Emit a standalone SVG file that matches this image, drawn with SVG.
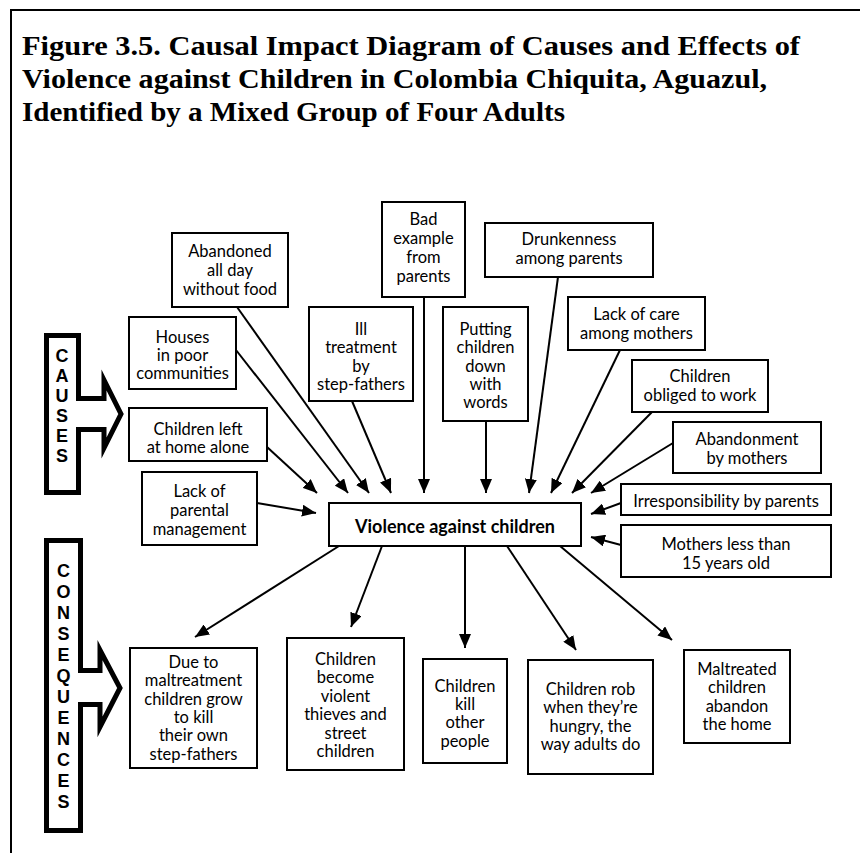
<svg xmlns="http://www.w3.org/2000/svg" width="860" height="853" viewBox="0 0 860 853">
  <style>
    .frame { fill: none; stroke: #000; stroke-width: 2; }
    .title { font-family: "Liberation Serif", "Times New Roman", serif; font-weight: bold; font-size: 28px; fill: #000; }
    .box { fill: #fff; stroke: #000; stroke-width: 2; }
    .lbl { font-family: Lato, "Liberation Sans", sans-serif; font-size: 16.5px; fill: #000; text-anchor: middle; }
    .core { font-family: Lato, "Liberation Sans", sans-serif; font-weight: bold; font-size: 18px; fill: #000; text-anchor: middle; }
    .band { fill: #fff; stroke: #000; stroke-width: 5; stroke-linejoin: miter; stroke-miterlimit: 10; }
    .vert { font-family: "Liberation Sans", Arial, sans-serif; font-weight: bold; font-size: 18px; fill: #000; text-anchor: middle; }
    .link { fill: none; stroke: #000; stroke-width: 2; marker-end: url(#head); }
  </style>
  <defs>
    <marker id="head" markerUnits="userSpaceOnUse" viewBox="0 0 14 12" refX="14" refY="6" markerWidth="14" markerHeight="12" orient="auto">
      <path d="M0,0 L14,6 L0,12 z" fill="#000"/>
    </marker>
  </defs>

  <rect width="860" height="853" fill="#fff"/>

  <!-- page frame -->
  <path class="frame" d="M11,853 L11,10 L860,10"/>

  <!-- heading -->
  <g id="title">
    <text class="title" x="22" y="55" textLength="778" lengthAdjust="spacingAndGlyphs">Figure 3.5. Causal Impact Diagram of Causes and Effects of</text>
    <text class="title" x="22" y="88" textLength="745" lengthAdjust="spacingAndGlyphs">Violence against Children in Colombia Chiquita, Aguazul,</text>
    <text class="title" x="22" y="121" textLength="543" lengthAdjust="spacingAndGlyphs">Identified by a Mixed Group of Four Adults</text>
  </g>

  <!-- side bands -->
  <g id="causes-band">
    <path class="band" d="M46.5,335.5 L78.5,335.5 L78.5,398.5 L104,398.5 L104,380 L121,414 L104,448 L104,429.5 L78.5,429.5 L78.5,492.5 L46.5,492.5 Z"/>
    <text class="vert" x="62" y="362">C</text>
    <text class="vert" x="62" y="382">A</text>
    <text class="vert" x="62" y="402">U</text>
    <text class="vert" x="62" y="422">S</text>
    <text class="vert" x="62" y="442">E</text>
    <text class="vert" x="62" y="462">S</text>
  </g>
  <g id="consequences-band">
    <path class="band" d="M46.5,540.5 L80.5,540.5 L80.5,670.5 L100,670.5 L100,650 L120,688 L100,727 L100,704.5 L80.5,704.5 L80.5,830.5 L46.5,830.5 Z"/>
    <text class="vert" x="63.5" y="577">C</text>
    <text class="vert" x="63.5" y="598">O</text>
    <text class="vert" x="63.5" y="619">N</text>
    <text class="vert" x="63.5" y="640">S</text>
    <text class="vert" x="63.5" y="661">E</text>
    <text class="vert" x="63.5" y="682">Q</text>
    <text class="vert" x="63.5" y="703">U</text>
    <text class="vert" x="63.5" y="724">E</text>
    <text class="vert" x="63.5" y="745">N</text>
    <text class="vert" x="63.5" y="766">C</text>
    <text class="vert" x="63.5" y="787">E</text>
    <text class="vert" x="63.5" y="808">S</text>
  </g>

  <!-- connectors -->
  <g id="connectors">
    <path class="link" d="M267,447 L317,493"/>
    <path class="link" d="M236,350 L348,493"/>
    <path class="link" d="M237,307 L369,493"/>
    <path class="link" d="M352,401 L391,493"/>
    <path class="link" d="M424,297 L424,493"/>
    <path class="link" d="M486,421 L486,493"/>
    <path class="link" d="M558,277 L529,493"/>
    <path class="link" d="M620,350 L551,493"/>
    <path class="link" d="M652,412 L572,493"/>
    <path class="link" d="M673,443 L591,493"/>
    <path class="link" d="M621,503 L591,514"/>
    <path class="link" d="M621,545 L591,537"/>
    <path class="link" d="M257,503 L316,513"/>
    <path class="link" d="M339,546 L195,637"/>
    <path class="link" d="M382,546 L351,627"/>
    <path class="link" d="M465,546 L465,648"/>
    <path class="link" d="M507,546 L576,650"/>
    <path class="link" d="M560,546 L672,640"/>
  </g>

  <!-- causes -->
  <g id="abandoned-all-day">
    <rect class="box" x="172" y="233" width="116" height="74"/>
    <text class="lbl" x="230" y="257">Abandoned</text>
    <text class="lbl" x="230" y="276">all day</text>
    <text class="lbl" x="230" y="295">without food</text>
  </g>
  <g id="bad-example">
    <rect class="box" x="382" y="202" width="83" height="95"/>
    <text class="lbl" x="423.5" y="225">Bad</text>
    <text class="lbl" x="423.5" y="244">example</text>
    <text class="lbl" x="423.5" y="263">from</text>
    <text class="lbl" x="423.5" y="282">parents</text>
  </g>
  <g id="drunkenness">
    <rect class="box" x="485" y="223" width="168" height="54"/>
    <text class="lbl" x="569" y="245">Drunkenness</text>
    <text class="lbl" x="569" y="264">among parents</text>
  </g>
  <g id="lack-of-care">
    <rect class="box" x="568" y="297" width="137" height="53"/>
    <text class="lbl" x="636.5" y="320">Lack of care</text>
    <text class="lbl" x="636.5" y="339">among mothers</text>
  </g>
  <g id="obliged-to-work">
    <rect class="box" x="632" y="360" width="136" height="52"/>
    <text class="lbl" x="700" y="382">Children</text>
    <text class="lbl" x="700" y="401">obliged to work</text>
  </g>
  <g id="abandonment-by-mothers">
    <rect class="box" x="673" y="422" width="148" height="51"/>
    <text class="lbl" x="747" y="445">Abandonment</text>
    <text class="lbl" x="747" y="464">by mothers</text>
  </g>
  <g id="irresponsibility">
    <rect class="box" x="621" y="484" width="210" height="31"/>
    <text class="lbl" x="726" y="507">Irresponsibility by parents</text>
  </g>
  <g id="young-mothers">
    <rect class="box" x="621" y="525" width="210" height="52"/>
    <text class="lbl" x="726" y="550">Mothers less than</text>
    <text class="lbl" x="726" y="569">15 years old</text>
  </g>
  <g id="parental-management">
    <rect class="box" x="142" y="472" width="115" height="73"/>
    <text class="lbl" x="199.5" y="497">Lack of</text>
    <text class="lbl" x="199.5" y="516">parental</text>
    <text class="lbl" x="199.5" y="535">management</text>
  </g>
  <g id="houses">
    <rect class="box" x="129" y="317" width="107" height="72"/>
    <text class="lbl" x="182.5" y="343">Houses</text>
    <text class="lbl" x="182.5" y="361">in poor</text>
    <text class="lbl" x="182.5" y="379">communities</text>
  </g>
  <g id="left-alone">
    <rect class="box" x="129" y="408" width="138" height="53"/>
    <text class="lbl" x="198" y="435">Children left</text>
    <text class="lbl" x="198" y="453">at home alone</text>
  </g>
  <g id="ill-treatment">
    <rect class="box" x="309" y="307" width="104" height="94"/>
    <text class="lbl" x="361" y="335">Ill</text>
    <text class="lbl" x="361" y="353">treatment</text>
    <text class="lbl" x="361" y="372">by</text>
    <text class="lbl" x="361" y="390">step-fathers</text>
  </g>
  <g id="putting-down">
    <rect class="box" x="443" y="307" width="85" height="114"/>
    <text class="lbl" x="485.5" y="335">Putting</text>
    <text class="lbl" x="485.5" y="353">children</text>
    <text class="lbl" x="485.5" y="372">down</text>
    <text class="lbl" x="485.5" y="390">with</text>
    <text class="lbl" x="485.5" y="408">words</text>
  </g>

  <!-- core problem -->
  <g id="violence">
    <rect class="box" x="329" y="503" width="252" height="43"/>
    <text class="core" x="455" y="533">Violence against children</text>
  </g>

  <!-- consequences -->
  <g id="kill-step-fathers">
    <rect class="box" x="130" y="648" width="127" height="120"/>
    <text class="lbl" x="193.5" y="668">Due to</text>
    <text class="lbl" x="193.5" y="686">maltreatment</text>
    <text class="lbl" x="193.5" y="705">children grow</text>
    <text class="lbl" x="193.5" y="723">to kill</text>
    <text class="lbl" x="193.5" y="741">their own</text>
    <text class="lbl" x="193.5" y="760">step-fathers</text>
  </g>
  <g id="violent-thieves">
    <rect class="box" x="287" y="638" width="117" height="132"/>
    <text class="lbl" x="345.5" y="665">Children</text>
    <text class="lbl" x="345.5" y="683">become</text>
    <text class="lbl" x="345.5" y="702">violent</text>
    <text class="lbl" x="345.5" y="720">thieves and</text>
    <text class="lbl" x="345.5" y="739">street</text>
    <text class="lbl" x="345.5" y="757">children</text>
  </g>
  <g id="kill-others">
    <rect class="box" x="423" y="659" width="84" height="104"/>
    <text class="lbl" x="465" y="692">Children</text>
    <text class="lbl" x="465" y="710">kill</text>
    <text class="lbl" x="465" y="728">other</text>
    <text class="lbl" x="465" y="747">people</text>
  </g>
  <g id="rob-when-hungry">
    <rect class="box" x="528" y="660" width="125" height="114"/>
    <text class="lbl" x="590.5" y="695">Children rob</text>
    <text class="lbl" x="590.5" y="713">when they’re</text>
    <text class="lbl" x="590.5" y="732">hungry, the</text>
    <text class="lbl" x="590.5" y="750">way adults do</text>
  </g>
  <g id="abandon-home">
    <rect class="box" x="684" y="650" width="106" height="93"/>
    <text class="lbl" x="737" y="675">Maltreated</text>
    <text class="lbl" x="737" y="693">children</text>
    <text class="lbl" x="737" y="712">abandon</text>
    <text class="lbl" x="737" y="730">the home</text>
  </g>
</svg>
